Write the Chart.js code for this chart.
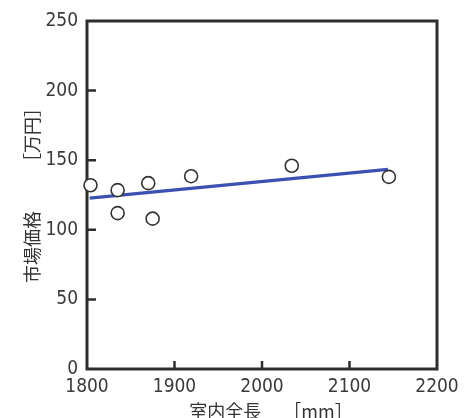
<!DOCTYPE html>
<html>
<head>
<meta charset="utf-8">
<script src="https://cdn.jsdelivr.net/npm/chart.js@4/dist/chart.umd.min.js"></script>
<style>
  html, body { margin: 0; padding: 0; background: #fff; overflow: hidden; }
  #wrap { width: 474px; height: 418px; }
</style>
</head>
<body>
<div id="wrap"><canvas id="myChart"></canvas></div>
<script>
// 室内全長 [mm] と 市場価格 [万円]
const lengthMm = [1804, 1835, 1835, 1870, 1875, 1919, 2034, 2145];
const priceMan = [132, 128.5, 112, 133.5, 108, 138.5, 146, 138];
// 回帰直線の両端
const fitX = [1803, 2144];
const fitY = [122.8, 143.4];

const xTitle = '　室内全長　 ［mm］';
const yTitle = '  市場価格　　 ［万円］';

const tickFont = { family: "'DejaVu Sans Condensed', sans-serif", size: 19 };

const ctx = document.getElementById('myChart').getContext('2d');

const frame = {
    id: 'frame',
    beforeDatasetsDraw(chart) {
        const { ctx, chartArea: a, scales: { x, y } } = chart;
        ctx.save();
        ctx.strokeStyle = '#2e2e2e';
        ctx.lineWidth = 2.5;
        ctx.beginPath();
        x.ticks.forEach(t => {
            if (t.value <= x.min || t.value >= x.max) return;
            const px = x.getPixelForValue(t.value);
            ctx.moveTo(px, a.bottom);
            ctx.lineTo(px, a.bottom - 8);
        });
        y.ticks.forEach(t => {
            if (t.value <= y.min || t.value >= y.max) return;
            const py = y.getPixelForValue(t.value);
            ctx.moveTo(a.left, py);
            ctx.lineTo(a.left + 9, py);
        });
        ctx.stroke();
        ctx.lineWidth = 3;
        ctx.strokeRect(a.left, a.top, a.right - a.left, a.bottom - a.top);
        ctx.restore();
    }
};

new Chart(ctx, {
    type: 'scatter',
    data: {
        datasets: [{
            data: lengthMm.map((v, i) => ({ x: v, y: priceMan[i] })),
            pointRadius: 6.5,
            pointHoverRadius: 6.5,
            pointBorderWidth: 1.6,
            pointBorderColor: '#333',
            pointBackgroundColor: '#fff',
            clip: false,
            order: 1
        }, {
            type: 'line',
            data: fitX.map((v, i) => ({ x: v, y: fitY[i] })),
            borderColor: '#3b50b3',
            borderWidth: 3.2,
            pointRadius: 0,
            fill: false,
            clip: false,
            order: 2
        }]
    },
    options: {
        responsive: true,
        maintainAspectRatio: false,
        animation: false,
        events: [],
        layout: { padding: { left: 0, top: 21, right: 37, bottom: 0 } },
        plugins: {
            legend: { display: false },
            tooltip: { enabled: false }
        },
        scales: {
            x: {
                type: 'linear',
                position: 'bottom',
                min: 1800,
                max: 2200,
                afterFit: s => { s.height = 49; },
                grid: { display: false, drawTicks: false, tickLength: 0 },
                border: { display: false },
                ticks: {
                    stepSize: 100,
                    padding: 7,
                    maxRotation: 0,
                    color: '#3a3a3a',
                    font: tickFont,
                    callback: v => String(v)
                },
                title: {
                    display: true,
                    text: xTitle,
                    color: '#333',
                    padding: { top: 0, bottom: -4 },
                    font: { family: 'Noto Sans CJK JP', size: 18 }
                }
            },
            y: {
                min: 0,
                max: 250,
                afterFit: s => { s.width = 87; },
                grid: { display: false, drawTicks: false, tickLength: 0 },
                border: { display: false },
                ticks: {
                    stepSize: 50,
                    padding: 9,
                    color: '#3a3a3a',
                    font: tickFont
                },
                title: {
                    display: true,
                    text: yTitle,
                    color: '#333',
                    padding: { top: 21, bottom: 0 },
                    font: { family: 'Noto Sans CJK JP', size: 18 }
                }
            }
        }
    },
    plugins: [frame]
});
</script>
</body>
</html>
